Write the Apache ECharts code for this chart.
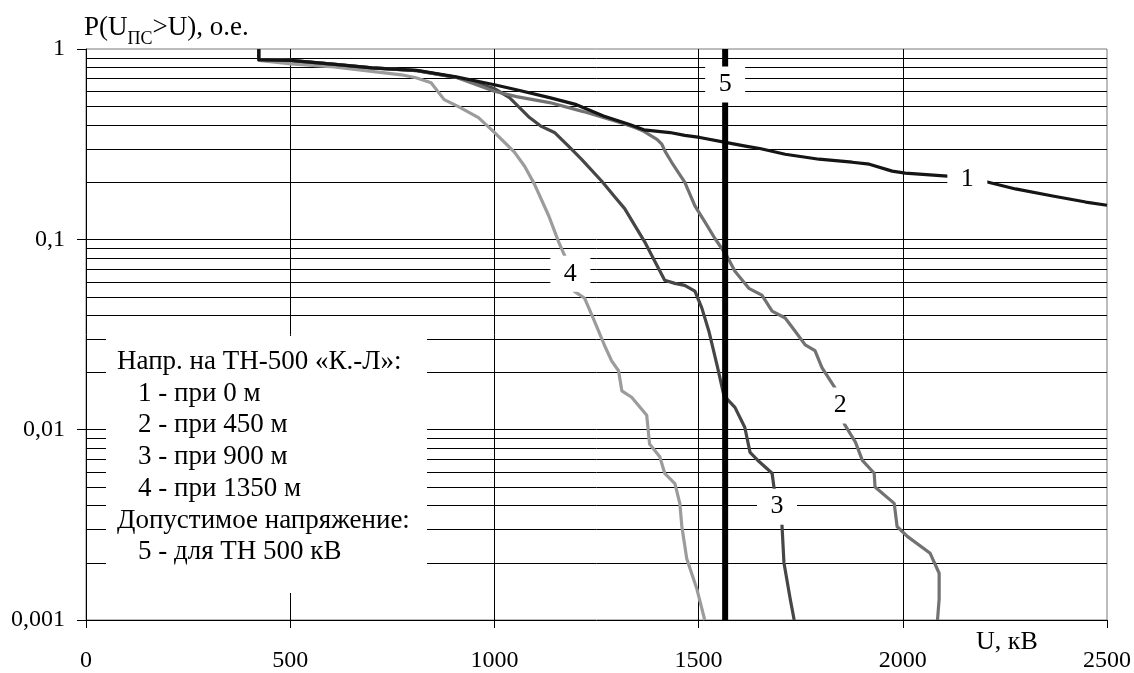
<!DOCTYPE html>
<html><head><meta charset="utf-8">
<script src="https://cdn.jsdelivr.net/npm/echarts@6/dist/echarts.min.js"></script>
<style>html,body{margin:0;padding:0;background:#fff}#c{width:1134px;height:673px}</style>
</head><body><div id="c"></div>
<script>
// ---- data ----
const xTicks = [0, 500, 1000, 1500, 2000, 2500];
const yDecades = [0.001, 0.01, 0.1, 1];

const u1 = [423, 423, 500, 610, 700, 810, 906, 1000, 1054, 1135, 1201, 1267, 1331, 1366, 1430, 1466, 1503, 1569, 1618, 1650, 1712, 1795, 1876, 1918, 1974, 2006, 2109, 2207, 2276, 2367, 2448, 2500];
const p1 = [1, 0.88, 0.872, 0.83, 0.795, 0.772, 0.714, 0.649, 0.611, 0.555, 0.51, 0.445, 0.401, 0.376, 0.364, 0.352, 0.343, 0.322, 0.308, 0.300, 0.28, 0.2636, 0.2542, 0.2482, 0.2282, 0.2228, 0.215, 0.2, 0.184, 0.169, 0.157, 0.151];

const u2 = [423, 423, 500, 610, 700, 810, 906, 1000, 1054, 1135, 1218, 1299, 1344, 1366, 1398, 1410, 1418, 1434, 1466, 1491, 1515, 1540, 1569, 1589, 1623, 1655, 1680, 1712, 1736, 1761, 1785, 1802, 1834, 1857, 1884, 1901, 1930, 1932, 1979, 1986, 2011, 2067, 2089, 2089, 2085];
const p2 = [1, 0.88, 0.872, 0.83, 0.795, 0.77, 0.71, 0.6, 0.562, 0.523, 0.469, 0.416, 0.387, 0.369, 0.335, 0.316, 0.29, 0.254, 0.2, 0.15, 0.124, 0.101, 0.082, 0.068, 0.0553, 0.0509, 0.042, 0.0386, 0.033, 0.0279, 0.026, 0.0212, 0.0166, 0.0107, 0.0086, 0.0069, 0.0059, 0.005, 0.0041, 0.0031, 0.00275, 0.00224, 0.00176, 0.00129, 0.001];

const u3 = [423, 423, 500, 610, 700, 810, 906, 1000, 1037, 1086, 1115, 1147, 1182, 1213, 1263, 1295, 1319, 1344, 1368, 1393, 1417, 1442, 1466, 1491, 1508, 1525, 1545, 1562, 1589, 1613, 1626, 1648, 1680, 1685, 1704, 1709, 1724, 1734];
const p3 = [1, 0.88, 0.872, 0.83, 0.795, 0.77, 0.71, 0.62, 0.555, 0.4365, 0.392, 0.3645, 0.308, 0.264, 0.202, 0.167, 0.145, 0.118, 0.097, 0.0765, 0.061, 0.0587, 0.0573, 0.0534, 0.0435, 0.033, 0.0219, 0.0151, 0.0131, 0.0103, 0.0076, 0.0068, 0.0059, 0.0049, 0.0032, 0.002, 0.0013, 0.001];

const u4 = [423, 423, 502, 607, 772, 808, 845, 877, 912, 961, 1000, 1049, 1074, 1098, 1133, 1157, 1172, 1196, 1221, 1245, 1270, 1287, 1304, 1312, 1336, 1373, 1380, 1405, 1417, 1442, 1454, 1459, 1471, 1496, 1515];
const p4 = [1, 0.87, 0.835, 0.806, 0.732, 0.706, 0.665, 0.542, 0.498, 0.436, 0.365, 0.287, 0.242, 0.195, 0.133, 0.0973, 0.0822, 0.0533, 0.049, 0.0372, 0.0276, 0.023, 0.0204, 0.016, 0.0148, 0.0119, 0.0084, 0.0072, 0.0059, 0.0052, 0.0041, 0.0031, 0.0021, 0.00145, 0.001];

const limitU = 1565;              // curve 5: permissible voltage
const limitP = [0.001, 1];

const labelNames = ['1', '2', '3', '4', '5'];
const labelU = [2158, 1847, 1692, 1186, 1565];
const labelP = [0.207, 0.0134, 0.00394, 0.066, 0.65];

const legendLines = ['Напр. на ТН-500 «К.-Л»:', '1 - при 0 м', '2 - при 450 м', '3 - при 900 м', '4 - при 1350 м', 'Допустимое напряжение:', '5 - для ТН 500 кВ'];
const legendIndent = [0, 1, 1, 1, 1, 0, 1];

const yTitleParts = ['P(U', 'ПС', '>U), о.е.'];
const xTitle = 'U, кВ';

// ---- build ----
const FONT = '"Liberation Serif", "Times New Roman", serif';
const zip = (u, p) => u.map((v, i) => [v, p[i]]);
const X0 = xTicks[0], X1 = xTicks[xTicks.length - 1];

// log-paper minor grid values (2..9 in each decade)
const minorVals = [];
[0.001, 0.01, 0.1].forEach(d => { for (let k = 2; k <= 9; k++) minorVals.push(+(d * k).toPrecision(3)); });

const gridSeries = {
  type: 'custom', silent: true, z: 1, animation: false,
  data: minorVals.map(v => [X0, v]),
  encode: { x: 0, y: 1 },
  renderItem: function (params, api) {
    const v = api.value(1);
    const a = api.coord([X0, v]);
    const b = api.coord([X1, v]);
    const y = Math.round(a[1]) + 0.5;
    return { type: 'line', shape: { x1: a[0], y1: y, x2: b[0], y2: y }, style: { stroke: '#000', lineWidth: 1 } };
  }
};

function labelPoint(i) {
  return {
    symbol: 'rect', symbolSize: [40, 36], silent: true, animation: false,
    itemStyle: { color: '#fff' },
    label: { show: true, position: 'inside', formatter: labelNames[i], color: '#000', fontFamily: FONT, fontSize: 26 },
    data: [{ coord: [labelU[i], labelP[i]] }]
  };
}

function curve(name, u, p, color, width, idx) {
  return {
    name, type: 'line', symbol: 'none', animation: false, z: 2,
    data: zip(u, p),
    lineStyle: { color, width, join: 'round' },
    markPoint: labelPoint(idx)
  };
}

const series = [gridSeries,
  curve('4', u4, p4, '#9c9c9c', 3.2, 3),
  curve('3', u3, p3, '#464646', 3.2, 2),
  curve('2', u2, p2, '#727272', 3.2, 1),
  curve('1', u1, p1, '#151515', 3.2, 0),
  curve('5', [limitU, limitU], limitP, '#000', 6, 4)
];

// measure text for the y-axis title with subscript
const mctx = document.createElement('canvas').getContext('2d');
function tw(t, size) { mctx.font = size + 'px ' + FONT; return mctx.measureText(t).width; }
const TS = 27, SS = 18;

const elems = [{ type: 'rect', shape: { x: 106, y: 336, width: 321, height: 257 }, style: { fill: '#fff' }, z: 100, silent: true }];
legendLines.forEach((t, i) => {
  elems.push({
    type: 'text', z: 101, silent: true,
    style: { text: t, x: 117 + legendIndent[i] * 21, y: 362 + i * 31.7, font: '27px ' + FONT, fill: '#000', verticalAlign: 'middle' }
  });
});
let tx = 84;
const yTitleSizes = [TS, SS, TS];
const yTitleY = [28, 39, 28];
yTitleParts.forEach((t, i) => {
  elems.push({ type: 'text', z: 101, silent: true, style: { text: t, x: tx, y: yTitleY[i], font: yTitleSizes[i] + 'px ' + FONT, fill: '#000', verticalAlign: 'middle' } });
  tx += tw(t, yTitleSizes[i]);
});

const chart = echarts.init(document.getElementById('c'), null, { renderer: 'canvas' });
chart.setOption({
  animation: false,
  backgroundColor: '#fff',
  grid: { left: 86, right: 26, top: 49, bottom: 49, show: true, borderColor: '#7a7a7a', borderWidth: 1, backgroundColor: 'transparent' },
  xAxis: {
    type: 'value', min: X0, max: X1, interval: 500,
    name: xTitle, nameLocation: 'end', nameGap: -131,
    nameTextStyle: { fontFamily: FONT, fontSize: 26, color: '#000', verticalAlign: 'top', padding: [9, 0, 0, 0] },
    axisLine: { show: true, lineStyle: { color: '#000', width: 1 } },
    axisTick: { show: true, length: 8, lineStyle: { color: '#000' } },
    axisLabel: { fontFamily: FONT, fontSize: 24, color: '#000', margin: 29, formatter: v => String(v) },
    splitLine: { show: true, showMinLine: false, showMaxLine: false, lineStyle: { color: '#000', width: 1 } }
  },
  yAxis: {
    type: 'log', logBase: 10, min: yDecades[0], max: yDecades[yDecades.length - 1],
    axisLine: { show: true, lineStyle: { color: '#000', width: 1 } },
    axisTick: { show: true, length: 9, lineStyle: { color: '#000' } },
    axisLabel: { fontFamily: FONT, fontSize: 24, color: '#000', margin: 21, formatter: v => String(v).replace('.', ',') },
    splitLine: { show: true, showMinLine: false, showMaxLine: false, lineStyle: { color: '#000', width: 1 } },
    minorTick: { show: false }, minorSplitLine: { show: false }
  },
  graphic: elems,
  series
});
</script></body></html>
